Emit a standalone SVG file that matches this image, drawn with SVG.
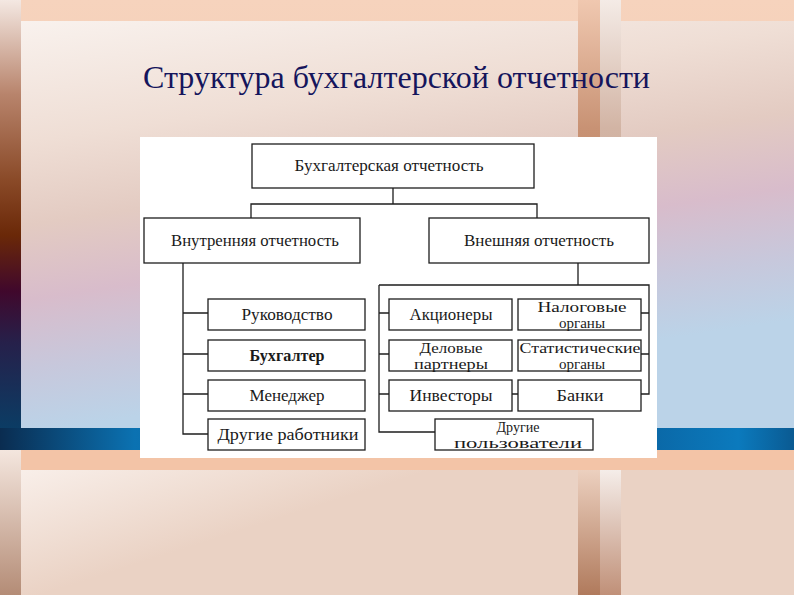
<svg xmlns="http://www.w3.org/2000/svg" width="794" height="595" viewBox="0 0 794 595">
<defs>
<linearGradient id="gTop" x1="0" y1="0" x2="0" y2="1"><stop offset="0" stop-color="#f6d3bd"/><stop offset="1" stop-color="#f0ba9b"/></linearGradient>
<linearGradient id="gPanel" gradientUnits="userSpaceOnUse" x1="0" y1="21" x2="60" y2="428"><stop offset="0" stop-color="#f9f2ee"/><stop offset="0.3" stop-color="#efded5"/><stop offset="0.5" stop-color="#e3cbc2"/><stop offset="0.68" stop-color="#d8bccb"/><stop offset="0.85" stop-color="#c7c8dc"/><stop offset="1" stop-color="#bbd3e8"/></linearGradient>
<linearGradient id="gLeft" gradientUnits="userSpaceOnUse" x1="0" y1="0" x2="0" y2="428"><stop offset="0" stop-color="#f4e8e2"/><stop offset="0.22" stop-color="#b8846c"/><stop offset="0.42" stop-color="#8a4a28"/><stop offset="0.55" stop-color="#6a2808"/><stop offset="0.68" stop-color="#40082c"/><stop offset="0.8" stop-color="#26204a"/><stop offset="1" stop-color="#0b3c64"/></linearGradient>
<linearGradient id="gBand" x1="0" y1="0" x2="1" y2="0"><stop offset="0" stop-color="#0a2c50"/><stop offset="0.17" stop-color="#0b72b2"/><stop offset="0.4" stop-color="#0a5a94"/><stop offset="0.75" stop-color="#0a5c98"/><stop offset="0.93" stop-color="#0b7abd"/><stop offset="1" stop-color="#0a5a92"/></linearGradient>
<linearGradient id="gLow" gradientUnits="userSpaceOnUse" x1="0" y1="470" x2="40" y2="595"><stop offset="0" stop-color="#f9f0eb"/><stop offset="1" stop-color="#ead2c4"/></linearGradient>
<linearGradient id="gLowLeft" x1="0" y1="0" x2="0" y2="1"><stop offset="0" stop-color="#f4e6de"/><stop offset="1" stop-color="#b48c76"/></linearGradient>
<linearGradient id="gSepA" x1="0" y1="0" x2="0" y2="1"><stop offset="0" stop-color="#f0c8b0"/><stop offset="0.3" stop-color="#c89274"/><stop offset="1" stop-color="#b07658"/></linearGradient>
<linearGradient id="gSepB" x1="0" y1="0" x2="0" y2="1"><stop offset="0" stop-color="#f4ebe6"/><stop offset="0.3" stop-color="#d2b4a4"/><stop offset="1" stop-color="#c39c88"/></linearGradient>
<linearGradient id="gSepC" x1="0" y1="0" x2="0" y2="1"><stop offset="0" stop-color="#ecd0bf"/><stop offset="1" stop-color="#b07a5c"/></linearGradient>
<linearGradient id="gSepD" x1="0" y1="0" x2="0" y2="1"><stop offset="0" stop-color="#f5ede9"/><stop offset="1" stop-color="#c09078"/></linearGradient>
</defs>
<style>
.box{fill:#ffffff;stroke:#1e1e1e;stroke-width:1.3}
.c{fill:none;stroke:#1e1e1e;stroke-width:1.3}
.t{font-family:"Liberation Serif","Times New Roman",serif;font-size:16px;fill:#1a1a1a;text-anchor:middle}
.s{font-size:14px}
.b{font-weight:bold}
.title{font-family:"Liberation Serif","Times New Roman",serif;font-size:32px;fill:#15155c}
</style>

<!-- slide background -->
<rect x="0" y="0" width="794" height="595" fill="url(#gTop)"/>
<rect x="0" y="0" width="21" height="428" fill="url(#gLeft)"/>
<rect x="21" y="21" width="557" height="407" fill="url(#gPanel)"/>
<rect x="621" y="21" width="173" height="407" fill="url(#gPanel)"/>
<rect x="578" y="0" width="22" height="428" fill="url(#gSepA)"/>
<rect x="600" y="0" width="21" height="428" fill="url(#gSepB)"/>
<rect x="0" y="428" width="794" height="22" fill="url(#gBand)"/>
<rect x="0" y="450" width="794" height="145" fill="#f3c4a7"/>
<rect x="0" y="450" width="21" height="145" fill="url(#gLowLeft)"/>
<rect x="21" y="470" width="557" height="125" fill="url(#gLow)"/>
<rect x="621" y="470" width="173" height="125" fill="url(#gLow)"/>
<rect x="578" y="470" width="22" height="125" fill="url(#gSepC)"/>
<rect x="600" y="470" width="21" height="125" fill="url(#gSepD)"/>

<text class="title" x="143" y="88" textLength="507" lengthAdjust="spacingAndGlyphs">Структура бухгалтерской отчетности</text>

<!-- diagram image area -->
<rect x="140" y="137" width="517" height="321" fill="#ffffff"/>

<g id="connectors">
<path class="c" d="M393,188V204M251,218V204H537V218"/>
<path class="c" d="M183,263V434H208M183,313H208M183,354H208M183,394H208"/>
<path class="c" d="M578,263V285M379,285H649V394H641M379,285V432H435M379,313H389M379,354H389M379,394H389M649,313H641M649,354H641M512,394H518"/>
</g>

<g id="n-root"><rect class="box" x="252" y="144" width="282" height="44"/><text class="t" x="389" y="171" textLength="189" lengthAdjust="spacingAndGlyphs">Бухгалтерская отчетность</text></g>
<g id="n-internal"><rect class="box" x="144" y="218" width="216" height="45"/><text class="t" x="255" y="246" textLength="168" lengthAdjust="spacingAndGlyphs">Внутренняя отчетность</text></g>
<g id="n-external"><rect class="box" x="429" y="218" width="220" height="45"/><text class="t" x="539" y="246" textLength="150" lengthAdjust="spacingAndGlyphs">Внешняя отчетность</text></g>

<g id="n-management"><rect class="box" x="208" y="299" width="157" height="31"/><text class="t" x="287" y="320" textLength="91" lengthAdjust="spacingAndGlyphs">Руководство</text></g>
<g id="n-accountant"><rect class="box" x="208" y="340" width="157" height="31"/><text class="t b" x="287" y="361" textLength="75" lengthAdjust="spacingAndGlyphs">Бухгалтер</text></g>
<g id="n-manager"><rect class="box" x="208" y="380" width="157" height="31"/><text class="t" x="287" y="401" textLength="75" lengthAdjust="spacingAndGlyphs">Менеджер</text></g>
<g id="n-other-workers"><rect class="box" x="208" y="419" width="157" height="31"/><text class="t" x="288" y="440" textLength="141" lengthAdjust="spacingAndGlyphs">Другие работники</text></g>

<g id="n-shareholders"><rect class="box" x="389" y="299" width="123" height="31"/><text class="t" x="451" y="320" textLength="83" lengthAdjust="spacingAndGlyphs">Акционеры</text></g>
<g id="n-tax"><rect class="box" x="518" y="299" width="123" height="31"/><text class="t s" x="582" y="312" textLength="89" lengthAdjust="spacingAndGlyphs">Налоговые</text><text class="t s" x="582" y="327.5" textLength="46" lengthAdjust="spacingAndGlyphs">органы</text></g>
<g id="n-partners"><rect class="box" x="389" y="340" width="123" height="31"/><text class="t s" x="451" y="353" textLength="63" lengthAdjust="spacingAndGlyphs">Деловые</text><text class="t s" x="451" y="368.5" textLength="74" lengthAdjust="spacingAndGlyphs">партнеры</text></g>
<g id="n-statistics"><rect class="box" x="518" y="340" width="123" height="31"/><text class="t s" x="580" y="353" textLength="121" lengthAdjust="spacingAndGlyphs">Статистические</text><text class="t s" x="582" y="368.5" textLength="46" lengthAdjust="spacingAndGlyphs">органы</text></g>
<g id="n-investors"><rect class="box" x="389" y="380" width="123" height="31"/><text class="t" x="451" y="401" textLength="83" lengthAdjust="spacingAndGlyphs">Инвесторы</text></g>
<g id="n-banks"><rect class="box" x="518" y="380" width="123" height="31"/><text class="t" x="580" y="401" textLength="47" lengthAdjust="spacingAndGlyphs">Банки</text></g>
<g id="n-other-users"><rect class="box" x="435" y="419" width="158" height="31"/><text class="t s" x="518" y="432" textLength="43" lengthAdjust="spacingAndGlyphs">Другие</text><text class="t s" x="518" y="447.5" textLength="128" lengthAdjust="spacingAndGlyphs">пользователи</text></g>
</svg>
